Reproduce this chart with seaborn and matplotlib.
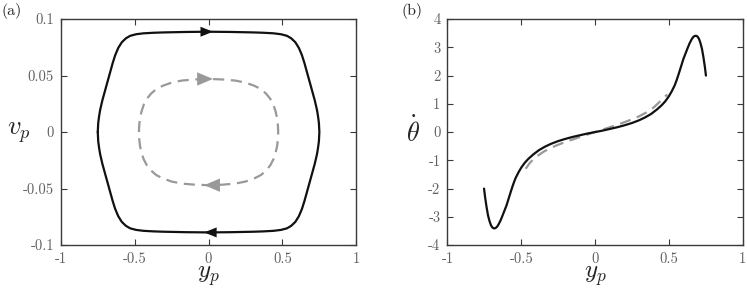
import matplotlib
matplotlib.use('Agg')
import matplotlib.pyplot as plt
import seaborn as sns
import numpy as np
import pandas as pd

# panel (a): black limit cycle, upper half from left vertex to right vertex,
# then lower half back again (clockwise)
cyc_y = [-0.751, -0.748, -0.742, -0.735, -0.72, -0.701, -0.684, -0.667, -0.650, -0.633,
         -0.612, -0.588, -0.56, -0.531, -0.49, -0.44, -0.37, -0.3, -0.15, 0.0,
         0.15, 0.3, 0.37, 0.44, 0.49, 0.531, 0.56, 0.588, 0.612, 0.633,
         0.650, 0.667, 0.684, 0.701, 0.72, 0.735, 0.742, 0.748, 0.751,
         0.748, 0.742, 0.735, 0.72, 0.701, 0.684, 0.667, 0.650, 0.633, 0.612,
         0.588, 0.56, 0.531, 0.49, 0.44, 0.37, 0.3, 0.15, 0.0,
         -0.15, -0.3, -0.37, -0.44, -0.49, -0.531, -0.56, -0.588, -0.612, -0.633,
         -0.650, -0.667, -0.684, -0.701, -0.72, -0.735, -0.742, -0.748, -0.751]
cyc_v = [0.0, 0.008, 0.014, 0.0195, 0.028, 0.037, 0.045, 0.053, 0.061, 0.068,
         0.0745, 0.0795, 0.0830, 0.0852, 0.0866, 0.0874, 0.0879, 0.0882, 0.0886, 0.0888,
         0.0886, 0.0882, 0.0879, 0.0874, 0.0866, 0.0852, 0.0830, 0.0795, 0.0745, 0.068,
         0.061, 0.053, 0.045, 0.037, 0.028, 0.0195, 0.014, 0.008, 0.0,
         -0.008, -0.014, -0.0195, -0.028, -0.037, -0.045, -0.053, -0.061, -0.068, -0.0745,
         -0.0795, -0.0830, -0.0852, -0.0866, -0.0874, -0.0879, -0.0882, -0.0886, -0.0888,
         -0.0886, -0.0882, -0.0879, -0.0874, -0.0866, -0.0852, -0.0830, -0.0795, -0.0745, -0.068,
         -0.061, -0.053, -0.045, -0.037, -0.028, -0.0195, -0.014, -0.008, 0.0]

# grey dashed orbit
orb_y = [-0.472, -0.470, -0.465, -0.455, -0.44, -0.418, -0.39, -0.355, -0.31, -0.25, -0.18, -0.09, 0.0,
         0.09, 0.18, 0.25, 0.31, 0.355, 0.39, 0.418, 0.44, 0.455, 0.465, 0.470, 0.472,
         0.470, 0.465, 0.455, 0.44, 0.418, 0.39, 0.355, 0.31, 0.25, 0.18, 0.09, 0.0,
         -0.09, -0.18, -0.25, -0.31, -0.355, -0.39, -0.418, -0.44, -0.455, -0.465, -0.470, -0.472]
orb_v = [0.0, 0.006, 0.012, 0.018, 0.024, 0.0295, 0.034, 0.038, 0.041, 0.0438, 0.0456, 0.0466, 0.047,
         0.0466, 0.0456, 0.0438, 0.041, 0.038, 0.034, 0.0295, 0.024, 0.018, 0.012, 0.006, 0.0,
         -0.006, -0.012, -0.018, -0.024, -0.0295, -0.034, -0.038, -0.041, -0.0438, -0.0456, -0.0466, -0.047,
         -0.0466, -0.0456, -0.0438, -0.041, -0.038, -0.034, -0.0295, -0.024, -0.018, -0.012, -0.006, 0.0]

# panel (b): theta dot vs y_p
th_y = [-0.752, -0.745, -0.735, -0.725, -0.715, -0.705, -0.695, -0.685, -0.675, -0.665,
        -0.655, -0.642, -0.63, -0.615, -0.60, -0.585, -0.57, -0.555, -0.54, -0.52,
        -0.50, -0.475, -0.45, -0.42, -0.38, -0.34, -0.30, -0.25, -0.20, -0.15, -0.10, -0.05,
        0.0, 0.05, 0.10, 0.15, 0.20, 0.25, 0.30, 0.34, 0.38, 0.42, 0.45, 0.475, 0.50,
        0.52, 0.54, 0.555, 0.57, 0.585, 0.60, 0.615, 0.63, 0.642, 0.655,
        0.665, 0.675, 0.685, 0.695, 0.705, 0.715, 0.725, 0.735, 0.745, 0.752]
th_d = [-2.0, -2.3, -2.65, -2.95, -3.15, -3.3, -3.38, -3.41, -3.40, -3.36,
        -3.28, -3.15, -3.0, -2.8, -2.6, -2.35, -2.1, -1.86, -1.65, -1.44,
        -1.26, -1.08, -0.94, -0.80, -0.64, -0.52, -0.42, -0.32, -0.24, -0.17, -0.11, -0.05,
        0.0, 0.05, 0.11, 0.17, 0.24, 0.32, 0.42, 0.52, 0.64, 0.80, 0.94, 1.08, 1.26,
        1.44, 1.65, 1.86, 2.1, 2.35, 2.6, 2.8, 3.0, 3.15, 3.28,
        3.36, 3.40, 3.41, 3.38, 3.3, 3.15, 2.95, 2.65, 2.3, 2.0]

lin_y = [-0.47, -0.44, -0.40, -0.35, -0.30, -0.25, -0.20, -0.15, -0.10, -0.05, 0.0,
         0.05, 0.10, 0.15, 0.20, 0.25, 0.30, 0.35, 0.40, 0.44, 0.49]
lin_d = [-1.30, -1.08, -0.88, -0.70, -0.56, -0.45, -0.35, -0.26, -0.17, -0.085, 0.0,
         0.085, 0.17, 0.26, 0.35, 0.45, 0.56, 0.70, 0.88, 1.08, 1.33]

xticks = [-1, -0.5, 0, 0.5, 1]
xtick_labels = ['-1', '-0.5', '0', '0.5', '1']
a_yticks = [-0.1, -0.05, 0, 0.05, 0.1]
a_ytick_labels = ['-0.1', '-0.05', '0', '0.05', '0.1']
b_yticks = [-4, -3, -2, -1, 0, 1, 2, 3, 4]

sns.set_style('ticks')
plt.rcParams['font.family'] = ['cmr10', 'DejaVu Serif']
plt.rcParams['mathtext.fontset'] = 'cm'
plt.rcParams['axes.unicode_minus'] = False
plt.rcParams['axes.formatter.use_mathtext'] = True

spine_col = '#3a3a3a'
tick_col = '#606060'
black = '#111111'
grey = '#999999'
dash = (0, (5, 3))

fig = plt.figure(figsize=(7.47, 2.89), dpi=100)
ax1 = fig.add_axes([0.0817, 0.152, 0.395, 0.782])
ax2 = fig.add_axes([0.599, 0.152, 0.395, 0.782])

df_cyc = pd.DataFrame({'y': cyc_y, 'v': cyc_v})
df_orb = pd.DataFrame({'y': orb_y, 'v': orb_v})
sns.lineplot(data=df_orb, x='y', y='v', sort=False, estimator=None, ax=ax1,
             color=grey, lw=1.6, linestyle=dash)
sns.lineplot(data=df_cyc, x='y', y='v', sort=False, estimator=None, ax=ax1,
             color=black, lw=1.6)


def arrow(ax, xs, ys, i, col, hl, hw, step):
    d = np.sign(xs[i + 1] - xs[i])
    ax.annotate('', xy=(xs[i] + d * step, ys[i]), xytext=(xs[i] - d * step, ys[i]),
                arrowprops=dict(arrowstyle=f'-|>,head_length={hl},head_width={hw}',
                                color=col, lw=0, shrinkA=0, shrinkB=0,
                                mutation_scale=12))


# arrows at the top and bottom of each orbit
for xs, ys, col, hl, hw in [(cyc_y, cyc_v, black, 0.75, 0.3), (orb_y, orb_v, grey, 0.95, 0.4)]:
    top = int(np.argmax(ys))
    bot = int(np.argmin(ys))
    arrow(ax1, xs, ys, top, col, hl, hw, 0.03)
    arrow(ax1, xs, ys, bot, col, hl, hw, 0.03)

ax1.set_xlim(-1, 1)
ax1.set_ylim(-0.1, 0.1)
ax1.set_xticks(xticks)
ax1.set_xticklabels(xtick_labels)
ax1.set_yticks(a_yticks)
ax1.set_yticklabels(a_ytick_labels)
ax1.set_xlabel('$y_p$', fontsize=18)
ax1.set_ylabel('$v_p$', fontsize=19, rotation=0, va='center', ha='center')
ax1.yaxis.set_label_coords(-0.142, 0.5)
ax1.xaxis.set_label_coords(0.5, -0.085)

df_th = pd.DataFrame({'y': th_y, 'd': th_d})
df_lin = pd.DataFrame({'y': lin_y, 'd': lin_d})
sns.lineplot(data=df_lin, x='y', y='d', sort=False, estimator=None, ax=ax2,
             color=grey, lw=1.6, linestyle=dash)
sns.lineplot(data=df_th, x='y', y='d', sort=False, estimator=None, ax=ax2,
             color=black, lw=1.6)
ax2.set_xlim(-1, 1)
ax2.set_ylim(-4, 4)
ax2.set_xticks(xticks)
ax2.set_xticklabels(xtick_labels)
ax2.set_yticks(b_yticks)
ax2.set_yticklabels([str(t) for t in b_yticks])
ax2.set_xlabel('$y_p$', fontsize=18)
ax2.set_ylabel(r'$\dot{\theta}$', fontsize=19, rotation=0, va='center', ha='center')
ax2.yaxis.set_label_coords(-0.118, 0.5)
ax2.xaxis.set_label_coords(0.5, -0.085)

for ax in (ax1, ax2):
    for s in ax.spines.values():
        s.set_visible(True)
        s.set_color(spine_col)
        s.set_linewidth(1.0)
    ax.tick_params(direction='in', top=True, right=True, length=4, width=0.8,
                   color=spine_col, labelcolor=tick_col, labelsize=10.5, pad=5)

fig.text(0.002, 0.988, '(a)', fontsize=11.5, va='top', ha='left', color='#222222')
fig.text(0.537, 0.988, '(b)', fontsize=11.5, va='top', ha='left', color='#222222')

fig.savefig('out.png', dpi=100)
